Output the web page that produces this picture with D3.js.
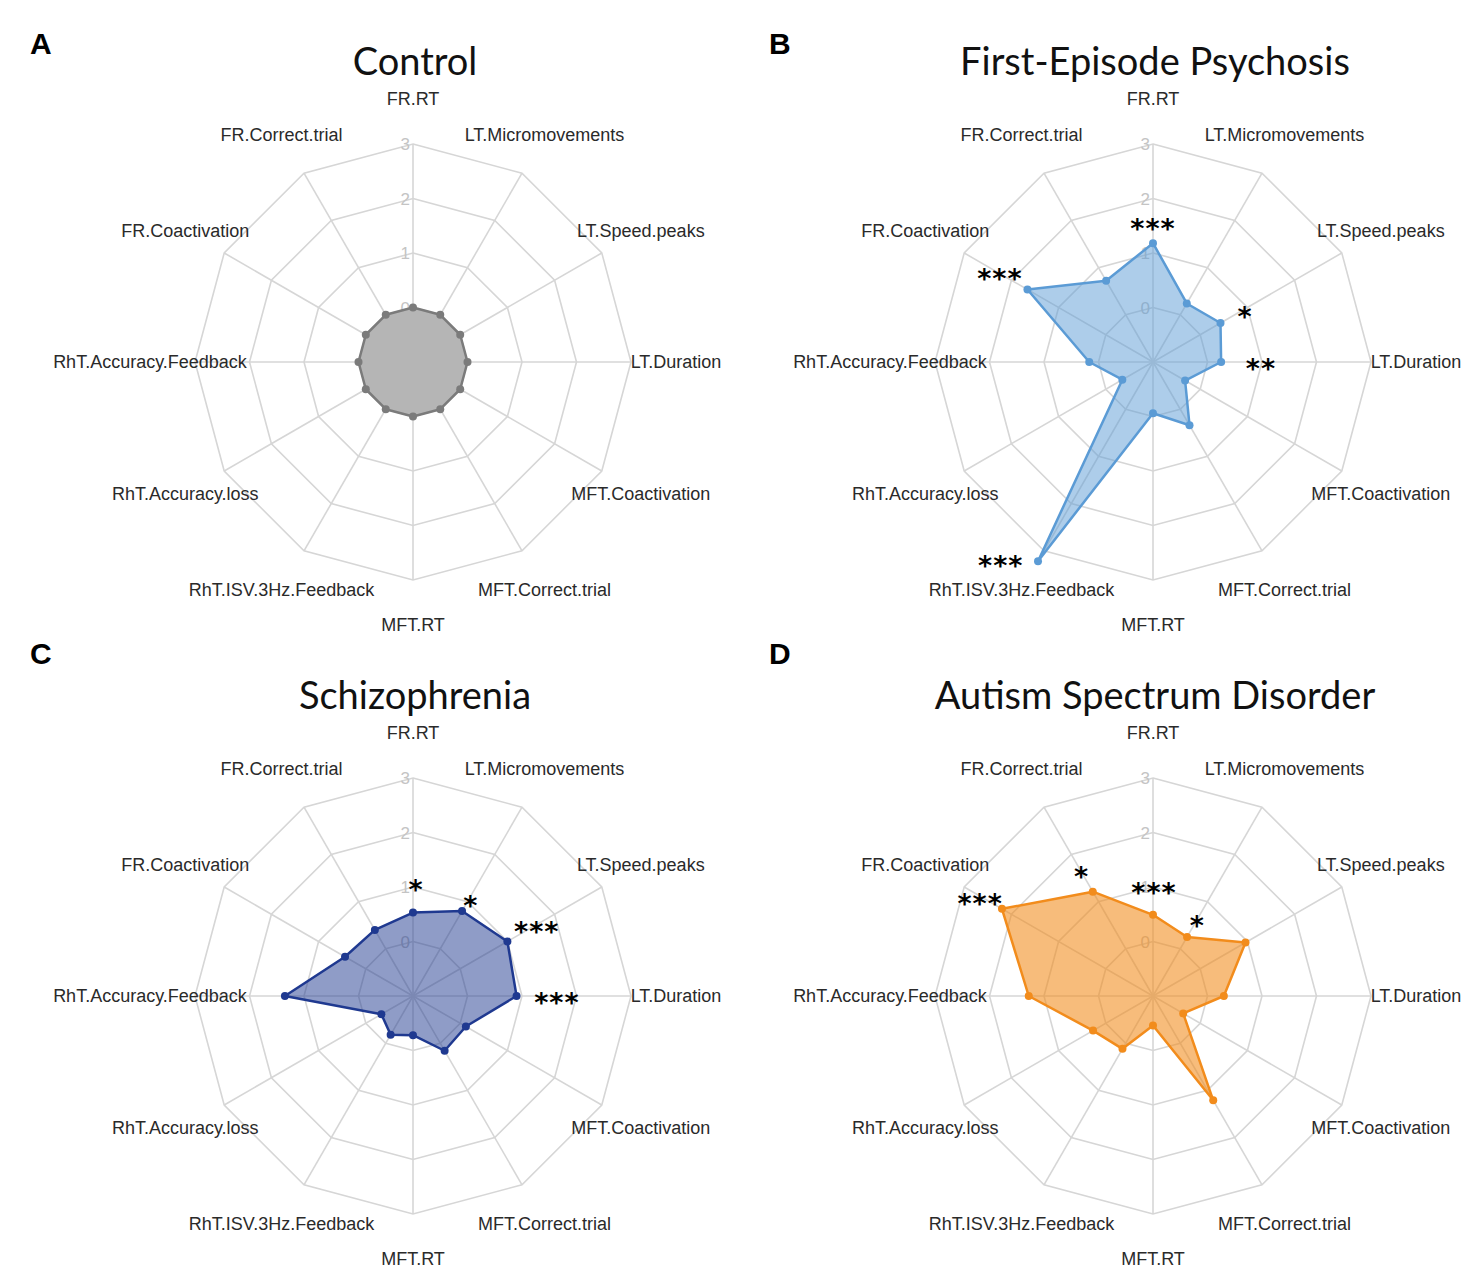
<!DOCTYPE html>
<html>
<head>
<meta charset="utf-8">
<script src="https://cdn.jsdelivr.net/npm/d3@7"></script>
<style>
  body { margin: 0; background: #fff; }
  svg { display: block; }
</style>
</head>
<body>
<div id="chart"></div>
<script>
// axis names, clockwise from the top
const axes = ["FR.RT", "LT.Micromovements", "LT.Speed.peaks", "LT.Duration",
  "MFT.Coactivation", "MFT.Correct.trial", "MFT.RT", "RhT.ISV.3Hz.Feedback",
  "RhT.Accuracy.loss", "RhT.Accuracy.Feedback", "FR.Coactivation", "FR.Correct.trial"];

const gridLevels = [0, 1, 2, 3];

// z-scores per group (same axis order)
const controlValues = [0, 0, 0, 0, 0, 0, 0, 0, 0, 0, 0, 0];
const fepValues = [1.18, 0.24, 0.43, 0.25, -0.32, 0.34, -0.06, 3.22, -0.35, 0.17, 1.66, 0.72];
const scValues = [0.53, 0.80, 1.00, 0.90, 0.12, 0.16, -0.28, -0.18, -0.33, 1.35, 0.44, 0.40];
const asdValues = [0.49, 0.25, 0.96, 0.30, -0.36, 1.21, -0.46, 0.12, 0.27, 1.28, 2.20, 1.21];

// significance marks: direction (deg, clockwise from top) and level on the radial scale
const controlStars = [];
const fepStars = [
  { label: "***", angle: 0, level: 1.57 },
  { label: "*", angle: 60.5, level: 0.94 },
  { label: "**", angle: 90, level: 0.98 },
  { label: "***", angle: 300.5, level: 2.26 },
  { label: "***", angle: 217.8, level: 3.56 }
];
const scStars = [
  { label: "*", angle: 1.5, level: 1.07 },
  { label: "*", angle: 30.6, level: 1.08 },
  { label: "***", angle: 60.1, level: 1.62 },
  { label: "***", angle: 90, level: 1.64 }
];
const asdStars = [
  { label: "***", angle: 299.9, level: 2.66 },
  { label: "*", angle: 330.5, level: 1.66 },
  { label: "***", angle: 0.5, level: 1.02 },
  { label: "*", angle: 30, level: 0.63 }
];

const panels = [
  { letter: "A", title: "Control", values: controlValues, stars: controlStars,
    stroke: "#7b7b7b", fill: "#b5b5b5", fillOpacity: 1 },
  { letter: "B", title: "First-Episode Psychosis", values: fepValues, stars: fepStars,
    stroke: "#5b9bd5", fill: "#5b9bd5", fillOpacity: 0.5 },
  { letter: "C", title: "Schizophrenia", values: scValues, stars: scStars,
    stroke: "#1f3990", fill: "#1f3990", fillOpacity: 0.5 },
  { letter: "D", title: "Autism Spectrum Disorder", values: asdValues, stars: asdStars,
    stroke: "#f28c1c", fill: "#f28c1c", fillOpacity: 0.58 }
];

const W = 1476, H = 1275;
const outerR = 218;

const svg = d3.select("#chart").append("svg")
  .attr("width", W)
  .attr("height", H);

svg.append("rect").attr("width", W).attr("height", H).attr("fill", "#fff");

// radial scale: centre is -1, outer ring is 3
const r = d3.scaleLinear().domain([-1, 3]).range([0, outerR]);
const angle = d3.scaleLinear().domain([0, axes.length]).range([0, 2 * Math.PI]);

function pt(i, v) {
  const a = angle(i);
  return [r(v) * Math.sin(a), -r(v) * Math.cos(a)];
}
function polar(deg, v) {
  const a = deg * Math.PI / 180;
  return [r(v) * Math.sin(a), -r(v) * Math.cos(a)];
}

const line = d3.line().curve(d3.curveLinearClosed);

panels.forEach((p, k) => {
  const col = k % 2, row = Math.floor(k / 2);
  const cx = 413 + col * 740, cy = 362 + row * 634;
  const g = svg.append("g").attr("transform", `translate(${cx},${cy})`);

  // rings
  g.selectAll("path.ring")
    .data(gridLevels)
    .enter().append("path")
      .attr("class", "ring")
      .attr("d", lv => line(axes.map((_, i) => pt(i, lv))))
      .attr("fill", "none")
      .attr("stroke", "#d6d6d6")
      .attr("stroke-width", 1.6);

  // spokes
  g.selectAll("line.spoke")
    .data(axes)
    .enter().append("line")
      .attr("class", "spoke")
      .attr("x1", 0).attr("y1", 0)
      .attr("x2", (d, i) => pt(i, 3)[0])
      .attr("y2", (d, i) => pt(i, 3)[1])
      .attr("stroke", "#d6d6d6")
      .attr("stroke-width", 1.6);

  // tick numbers on the top axis
  g.selectAll("text.tick")
    .data(gridLevels)
    .enter().append("text")
      .attr("class", "tick")
      .attr("x", -3)
      .attr("y", lv => -r(lv))
      .attr("dy", "0.36em")
      .attr("text-anchor", "end")
      .style("font-family", "'Liberation Sans', Arial, sans-serif")
      .style("font-size", "17px")
      .attr("fill", "#c4c4c4")
      .text(d => d);

  // data polygon
  g.append("path")
    .datum(p.values)
    .attr("d", vals => line(vals.map((v, i) => pt(i, v))))
    .attr("fill", p.fill)
    .attr("fill-opacity", p.fillOpacity)
    .attr("stroke", p.stroke)
    .attr("stroke-width", 2.5)
    .attr("stroke-linejoin", "round");

  g.selectAll("circle.dot")
    .data(p.values)
    .enter().append("circle")
      .attr("class", "dot")
      .attr("cx", (v, i) => pt(i, v)[0])
      .attr("cy", (v, i) => pt(i, v)[1])
      .attr("r", 4)
      .attr("fill", p.stroke);

  // axis labels
  g.selectAll("text.axis")
    .data(axes)
    .enter().append("text")
      .attr("class", "axis")
      .attr("x", (d, i) => Math.sin(angle(i)) * 263)
      .attr("y", (d, i) => -Math.cos(angle(i)) * 263)
      .attr("dy", "0.35em")
      .attr("text-anchor", "middle")
      .style("font-family", "'Liberation Sans', Arial, sans-serif")
      .style("font-size", "18px")
      .attr("fill", "#2a2a2a")
      .text(d => d);

  // significance stars
  g.selectAll("text.star")
    .data(p.stars)
    .enter().append("text")
      .attr("class", "star")
      .attr("x", s => polar(s.angle, s.level)[0])
      .attr("y", s => polar(s.angle, s.level)[1])
      .attr("dy", "0.6em")
      .attr("text-anchor", "middle")
      .style("font-family", "'DejaVu Sans', sans-serif")
      .style("font-weight", "bold")
      .style("font-size", "27px")
      .style("letter-spacing", "1px")
      .attr("fill", "#000")
      .text(s => s.label);

  // title
  svg.append("text")
    .attr("x", cx + 2)
    .attr("y", cy - 287)
    .attr("text-anchor", "middle")
    .style("font-family", "Lato, 'Open Sans', sans-serif")
    .style("font-size", "38px")
    .attr("fill", "#111")
    .text(p.title);

  // panel letter
  svg.append("text")
    .attr("x", 30 + col * 739)
    .attr("y", 54 + row * 610)
    .style("font-family", "'Liberation Sans', Arial, sans-serif")
    .style("font-weight", "bold")
    .style("font-size", "30px")
    .attr("fill", "#000")
    .text(p.letter);
});
</script>
</body>
</html>
